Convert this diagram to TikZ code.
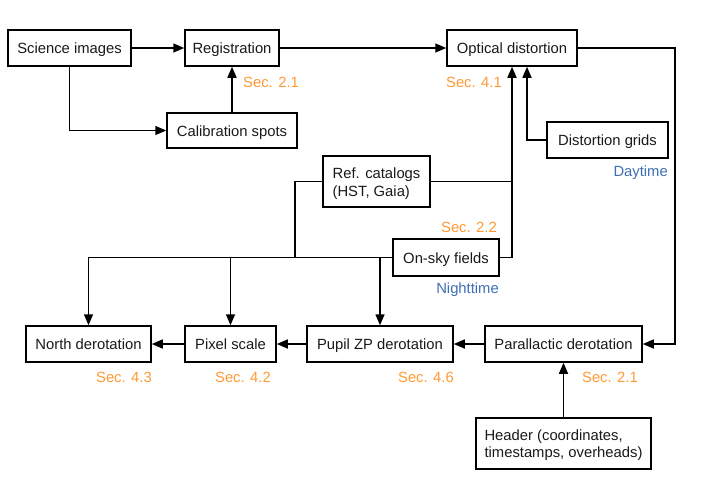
\documentclass[tikz,border=0pt]{standalone}
\usepackage{fontspec}
\setmainfont{Liberation Sans}
\usetikzlibrary{arrows.meta}
\definecolor{secorange}{RGB}{255,153,51}
\definecolor{timeblue}{RGB}{61,110,180}
\begin{document}
\begin{tikzpicture}[x=1pt,y=-1pt,
  txt/.style={font=\fontsize{14.8}{17.5}\selectfont, text=black!90},
  box/.style={txt, draw, line width=1.5pt, rectangle, inner sep=0pt, text height=11pt, text depth=0pt},
  boxtwo/.style={txt, draw, line width=1.5pt, rectangle, inner sep=0pt, align=left},
  lab/.style={font=\fontsize{14.8}{17}\selectfont, inner sep=0pt},
  sec/.style={lab, text=secorange},
  tim/.style={lab, text=timeblue},
  conn/.style={line width=1.5pt},
  arr/.style={conn, -{Triangle[length=11pt,width=9pt]}}]
\useasboundingbox (0,0) rectangle (706,499);
% boxes
\node[box, minimum width=123pt, minimum height=36pt] (sci) at (69.5,48) {Science images};
\node[box, minimum width=94pt, minimum height=36pt] (reg) at (232,48) {Registration};
\node[box, minimum width=130pt, minimum height=35pt] (cal) at (232,130.5) {Calibration spots};
\node[box, minimum width=130pt, minimum height=36pt] (opt) at (512,48) {Optical distortion};
\node[box, minimum width=121pt, minimum height=36pt] (grids) at (607.5,140) {Distortion grids};
\node[boxtwo, minimum width=107pt, minimum height=51pt] (ref) at (376.5,181.5) {\rule{0pt}{15pt}Ref. catalogs\\(HST, Gaia)};
\node[box, minimum width=106pt, minimum height=37pt] (onsky) at (446,257.5) {On-sky fields};
\node[box, minimum width=125pt, minimum height=36pt] (north) at (88.5,344) {North derotation};
\node[box, minimum width=91pt, minimum height=36pt] (pix) at (230.5,344) {Pixel scale};
\node[box, minimum width=146pt, minimum height=36pt] (pupil) at (380,344) {Pupil ZP derotation};
\node[box, minimum width=157pt, minimum height=36pt] (para) at (563.5,344) {Parallactic derotation};
\node[boxtwo, minimum width=175pt, minimum height=51pt] (header) at (563.5,443.5) {\rule{0pt}{14pt}Header (coordinates,\\timestamps, overheads)};
% labels
\node[sec, anchor=base west] (s21a) at (243,87.3) {Sec. 2.1};
\node[sec, anchor=base east] (s41) at (502,87.3) {Sec. 4.1};
\node[tim, anchor=base east] (day) at (668,176.3) {Daytime};
\node[sec, anchor=base east] (s22) at (497,232.3) {Sec. 2.2};
\node[tim, anchor=base east] (night) at (499,293.3) {Nighttime};
\node[sec, anchor=base east] (s43) at (152,382.3) {Sec. 4.3};
\node[sec, anchor=base east] (s42) at (271,382.3) {Sec. 4.2};
\node[sec, anchor=base east] (s46) at (454,382.3) {Sec. 4.6};
\node[sec, anchor=base east] (s21b) at (638,382.3) {Sec. 2.1};
% connectors
\draw[arr] (sci.east) -- (reg.west);
\draw[arr] (sci.south) |- (cal.west);
\draw[arr] (cal.north) -- (reg.south);
\draw[arr] (reg.east) -- (opt.west);
\coordinate (optin) at ([xshift=15pt]opt.south);
\draw[arr] (grids.west) -| (optin);
\draw[arr] (onsky.east) -| (opt.south);
\draw[conn] (ref.east) -- (ref.east -| opt.south);
\coordinate (rc) at (295,257.5);
\draw[conn] (ref.west) -| (rc);
\draw[arr] (onsky.west) -| (north.north);
\draw[arr] (onsky.west -| pix.north) -- (pix.north);
\draw[arr] (onsky.west -| pupil.north) -- (pupil.north);
\coordinate (rt) at (675,48);
\draw[arr] (opt.east) -- (rt) |- (para.east);
\draw[arr] (para.west) -- (pupil.east);
\draw[arr] (pupil.west) -- (pix.east);
\draw[arr] (pix.west) -- (north.east);
\draw[arr] (header.north) -- (para.south);
\end{tikzpicture}
\end{document}
